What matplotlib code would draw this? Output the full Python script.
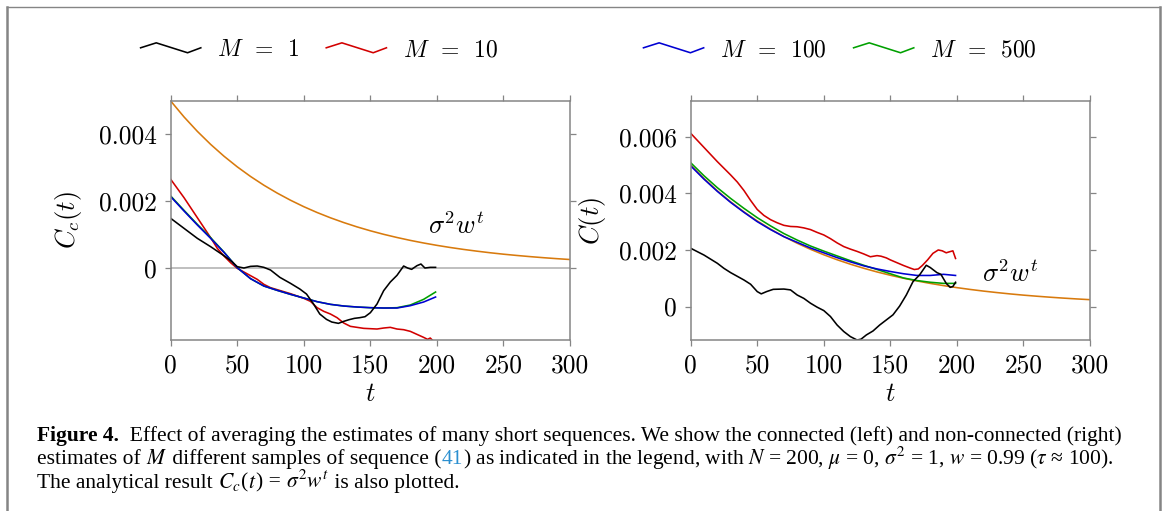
import matplotlib

matplotlib.use("Agg")
import matplotlib.pyplot as plt
import numpy as np
from matplotlib.legend_handler import HandlerBase
from matplotlib.lines import Line2D

RED = "#d20000"
BLUE = "#0000d2"
GREEN = "#00a000"
ORANGE = "#d87a0d"
FRAME = "#858585"
ZERO = "#b4b4b4"

# analytical curve sigma^2 w^t
T_EXACT = [0, 10, 20, 30, 40, 50, 60, 70, 80, 90, 100, 110, 120, 130, 140, 150,
           160, 170, 180, 190, 200, 210, 220, 230, 240, 250, 260, 270, 280, 290, 300]
EXACT = [0.005, 0.004522, 0.00409, 0.003699, 0.003345, 0.003025, 0.002736, 0.002474,
         0.002238, 0.002024, 0.00183, 0.001655, 0.001497, 0.001354, 0.001224, 0.001107,
         0.001001, 0.000906, 0.000819, 0.000741, 0.00067, 0.000606, 0.000548, 0.000496,
         0.000448, 0.000405, 0.000367, 0.000332, 0.0003, 0.000271, 0.000245]

# left panel: connected estimate C_c(t)
T_L1 = [0, 10, 20, 30, 40, 46, 50, 55, 60, 65, 70, 75, 82, 90, 97, 102, 107, 112, 117,
        121, 126, 130, 134, 138, 142, 146, 150, 155, 160, 165, 170, 175, 178, 181, 185,
        188, 191, 195, 199]
L1 = [0.00148, 0.00118, 0.00088, 0.00063, 0.00036, 0.00018, 0.00003, -0.00001, 0.00004,
      0.00005, 0.00001, -0.00007, -0.00029, -0.00047, -0.00064, -0.00079, -0.00107,
      -0.00139, -0.00155, -0.00163, -0.00167, -0.00161, -0.00156, -0.00152, -0.0015,
      -0.00147, -0.00135, -0.00109, -0.00069, -0.00043, -0.00023, 0.00005, -0.00001,
      -0.00005, 0.00006, 0.00011, -0.00001, 0.00001, 0.00001]
T_L10 = [0, 10, 20, 30, 35, 40, 45, 50, 55, 60, 65, 70, 75, 80, 90, 100, 105, 110, 115,
         120, 125, 130, 135, 140, 145, 150, 155, 160, 165, 170, 175, 180, 185, 190, 193,
         195, 197, 199]
L10 = [0.00265, 0.0021, 0.0015, 0.0009, 0.00058, 0.00035, 0.00015, -0.00002, -0.00013,
       -0.00024, -0.00035, -0.0005, -0.0006, -0.00066, -0.00078, -0.00092, -0.00101,
       -0.0012, -0.00131, -0.00139, -0.0015, -0.00166, -0.00176, -0.00179, -0.00182,
       -0.00183, -0.00184, -0.00181, -0.00179, -0.00184, -0.00186, -0.00191, -0.002,
       -0.00209, -0.00215, -0.00211, -0.00219, -0.0022]
T_LAVG = [0, 10, 20, 30, 40, 50, 60, 70, 80, 90, 100, 110, 120, 130, 140, 150, 160, 170,
          180, 190, 199]
L100 = [0.00213, 0.0017, 0.00128, 0.00088, 0.00046, 0.0, -0.00033, -0.00055, -0.00068,
        -0.0008, -0.00091, -0.00102, -0.0011, -0.00115, -0.00118, -0.0012, -0.00121,
        -0.00121, -0.00114, -0.00103, -0.00088]
L500 = [0.00215, 0.00172, 0.0013, 0.0009, 0.00047, 0.0, -0.00033, -0.00055, -0.00068,
        -0.0008, -0.00091, -0.00102, -0.0011, -0.00115, -0.00118, -0.0012, -0.00121,
        -0.0012, -0.00112, -0.00095, -0.00073]

# right panel: non-connected estimate C(t)
T_R1 = [0, 10, 20, 25, 30, 40, 45, 50, 53, 57, 62, 70, 75, 80, 85, 90, 95, 100, 105, 110,
        115, 120, 125, 128, 132, 137, 142, 147, 152, 157, 162, 167, 172, 177, 180, 185,
        188, 192, 195, 197, 199]
R1 = [0.00206, 0.00182, 0.00153, 0.00135, 0.0012, 0.00094, 0.00079, 0.00053, 0.00045,
      0.00053, 0.00061, 0.00062, 0.00059, 0.00041, 0.00029, 0.00012, -0.00002, -0.00014,
      -0.00035, -0.00065, -0.00088, -0.00106, -0.00118, -0.00115, -0.001, -0.00086,
      -0.00065, -0.00047, -0.00029, 0.00002, 0.00041, 0.00088, 0.00112, 0.00146, 0.00138,
      0.0012, 0.00114, 0.00082, 0.00068, 0.00071, 0.00086]
T_R10 = [0, 10, 20, 30, 35, 40, 45, 50, 55, 60, 65, 70, 75, 80, 85, 90, 95, 100, 105, 110,
         115, 120, 125, 130, 135, 140, 143, 147, 150, 155, 160, 165, 168, 171, 174, 178,
         182, 186, 189, 192, 194, 197, 199]
R10 = [0.00612, 0.00562, 0.00512, 0.00465, 0.0044, 0.0041, 0.00375, 0.00343, 0.00322,
       0.00307, 0.00296, 0.00287, 0.00283, 0.00282, 0.00278, 0.00272, 0.00262, 0.00253,
       0.0024, 0.00225, 0.00212, 0.00203, 0.00195, 0.00186, 0.00176, 0.0018, 0.00178,
       0.00172, 0.00165, 0.00155, 0.00145, 0.00136, 0.00131, 0.00133, 0.00145, 0.00165,
       0.00188, 0.002, 0.00197, 0.0019, 0.00193, 0.00197, 0.0017]
T_RAVG = [0, 10, 20, 30, 40, 50, 60, 70, 80, 90, 100, 110, 120, 130, 140, 150, 160, 170,
          180, 190, 199]
R100 = [0.00497, 0.0045, 0.00407, 0.00368, 0.00333, 0.003, 0.00272, 0.00247, 0.00227,
        0.00207, 0.0019, 0.00173, 0.00158, 0.00144, 0.00133, 0.00124, 0.00116, 0.0011,
        0.0011, 0.00114, 0.0011]
R500 = [0.00508, 0.00462, 0.0042, 0.00382, 0.00347, 0.00314, 0.00285, 0.00258, 0.00235,
        0.00214, 0.00196, 0.00179, 0.00162, 0.00146, 0.00131, 0.00116, 0.00101, 0.00092,
        0.00086, 0.00082, 0.00082]

X_TICKS = [0, 50, 100, 150, 200, 250, 300]
L_TICKS = [0, 0.002, 0.004]
R_TICKS = [0, 0.002, 0.004, 0.006]
M_LABELS = [r"$M\enspace=\enspace1$", r"$M\enspace=\enspace10$",
            r"$M\enspace=\enspace100$", r"$M\enspace=\enspace500$"]

CAPTION = [
    [("Figure 4.", {"fontweight": "bold"}),
     ("  Effect of averaging the estimates of many short sequences. We show the "
      "connected (left) and non-connected (right)", {})],
    [("estimates of ", {}), ("$M$", {}),
     (" different samples of sequence (", {}),
     ("41", {"color": "#2a8fd0"}),
     (r") as indicated in the legend, with $N$ = 200, $\mu$ = 0, $\sigma^2$ = 1, "
      r"$w$ = 0.99 ($\tau$ ≈ 100).", {})],
    [("The analytical result ", {}), ("$C_c$", {}), ("(", {}), ("$t$", {}), (") = ", {}),
     (r"$\sigma^2 w^t$", {}), (" is also plotted.", {})],
]


class WaveHandler(HandlerBase):
    """Little zig-zag used as legend glyph."""

    def create_artists(self, legend, orig_handle, xdescent, ydescent, width, height, fontsize, trans):
        xs = np.array([0.0, 0.26, 0.78, 1.0]) * width - xdescent
        ys = np.array([0.5, 0.8, 0.2, 0.5]) * height - ydescent
        wave = Line2D(xs, ys, color=orig_handle.get_color(), linewidth=orig_handle.get_linewidth())
        wave.set_transform(trans)
        return [wave]


def style_axis(ax, yticks) -> None:
    for spine in ax.spines.values():
        spine.set_color(FRAME)
        spine.set_linewidth(1.1)
    ax.set_xlim(0, 300)
    ax.set_xticks(X_TICKS, [str(v) for v in X_TICKS])
    ax.set_yticks(yticks, ["0" if v == 0 else f"{v:.3f}" for v in yticks])
    ax.tick_params(direction="out", length=4, width=0.9, color=FRAME, labelsize=18.3,
                   top=True, right=True, pad=6)
    ax.set_xlabel("$t$", fontsize=19, labelpad=3)


plt.rcParams.update({
    "font.family": "cmr10",
    "mathtext.fontset": "cm",
    "axes.formatter.use_mathtext": True,
})

W, H = 1163, 511
fig = plt.figure(figsize=(W / 100, H / 100), dpi=100)
axl = fig.add_axes([0.1468, 0.3346, 0.3433, 0.4677])
axr = fig.add_axes([0.5939, 0.3346, 0.3433, 0.4677])

lw = 1.15
axl.axhline(0, color=ZERO, linewidth=1.2, zorder=1)
axl.plot(T_EXACT, EXACT, color=ORANGE, lw=lw)
axl.plot(T_L10, L10, color=RED, lw=lw)
axl.plot(T_LAVG, L500, color=GREEN, lw=lw)
axl.plot(T_LAVG, L100, color=BLUE, lw=lw)
axl.plot(T_L1, L1, color="black", lw=lw)
axl.set_ylim(-0.00217, 0.005)
axl.set_ylabel("$C_c(t)$", fontsize=19, labelpad=11)
axl.text(193, 0.00125, r"$\sigma^2w^t$", fontsize=19, va="center")
style_axis(axl, L_TICKS)

axr.plot(T_EXACT, EXACT, color=ORANGE, lw=lw)
axr.plot(T_R10, R10, color=RED, lw=lw)
axr.plot(T_RAVG, R500, color=GREEN, lw=lw)
axr.plot(T_RAVG, R100, color=BLUE, lw=lw)
axr.plot(T_R1, R1, color="black", lw=lw)
axr.set_ylim(-0.00118, 0.00726)
axr.set_ylabel("$C(t)$", fontsize=19, labelpad=8)
axr.text(219, 0.00116, r"$\sigma^2w^t$", fontsize=19, va="center")
style_axis(axr, R_TICKS)

legend_style = dict(loc="center", ncol=2, frameon=False, fontsize=17, handlelength=2.55,
                    handletextpad=0.68, columnspacing=1.15, handler_map={Line2D: WaveHandler()})
fig.legend([Line2D([], [], color="black", lw=lw), Line2D([], [], color=RED, lw=lw)],
           M_LABELS[:2], bbox_to_anchor=(319 / W, 1 - 50 / H), **legend_style)
fig.legend([Line2D([], [], color=BLUE, lw=lw), Line2D([], [], color=GREEN, lw=lw)],
           M_LABELS[2:], bbox_to_anchor=(840 / W, 1 - 50 / H), **legend_style)

# caption: pieces on a shared baseline, placed one after another by measured width
renderer = fig.canvas.get_renderer()
serif = dict(fontfamily="Liberation Serif", math_fontfamily="stix", fontsize=15.5,
             va="baseline", ha="left")
for row, pieces in enumerate(CAPTION):
    x = 37.0
    y = 441.0 + 23.4 * row
    for text, extra in pieces:
        piece = fig.text(x / W, 1 - y / H, text, **serif, **extra)
        x += piece.get_window_extent(renderer).width

# page frame around the figure (open at the bottom)
fig.add_artist(Line2D([6.5 / W, 6.5 / W], [0, 1 - 7 / H], color=FRAME, lw=1.8))
fig.add_artist(Line2D([1160 / W, 1160 / W], [0, 1 - 7 / H], color=FRAME, lw=1.8))
fig.add_artist(Line2D([6.5 / W, 1160 / W], [1 - 7 / H, 1 - 7 / H], color=FRAME, lw=1.0))

fig.savefig("out.png", dpi=100, facecolor="white")
